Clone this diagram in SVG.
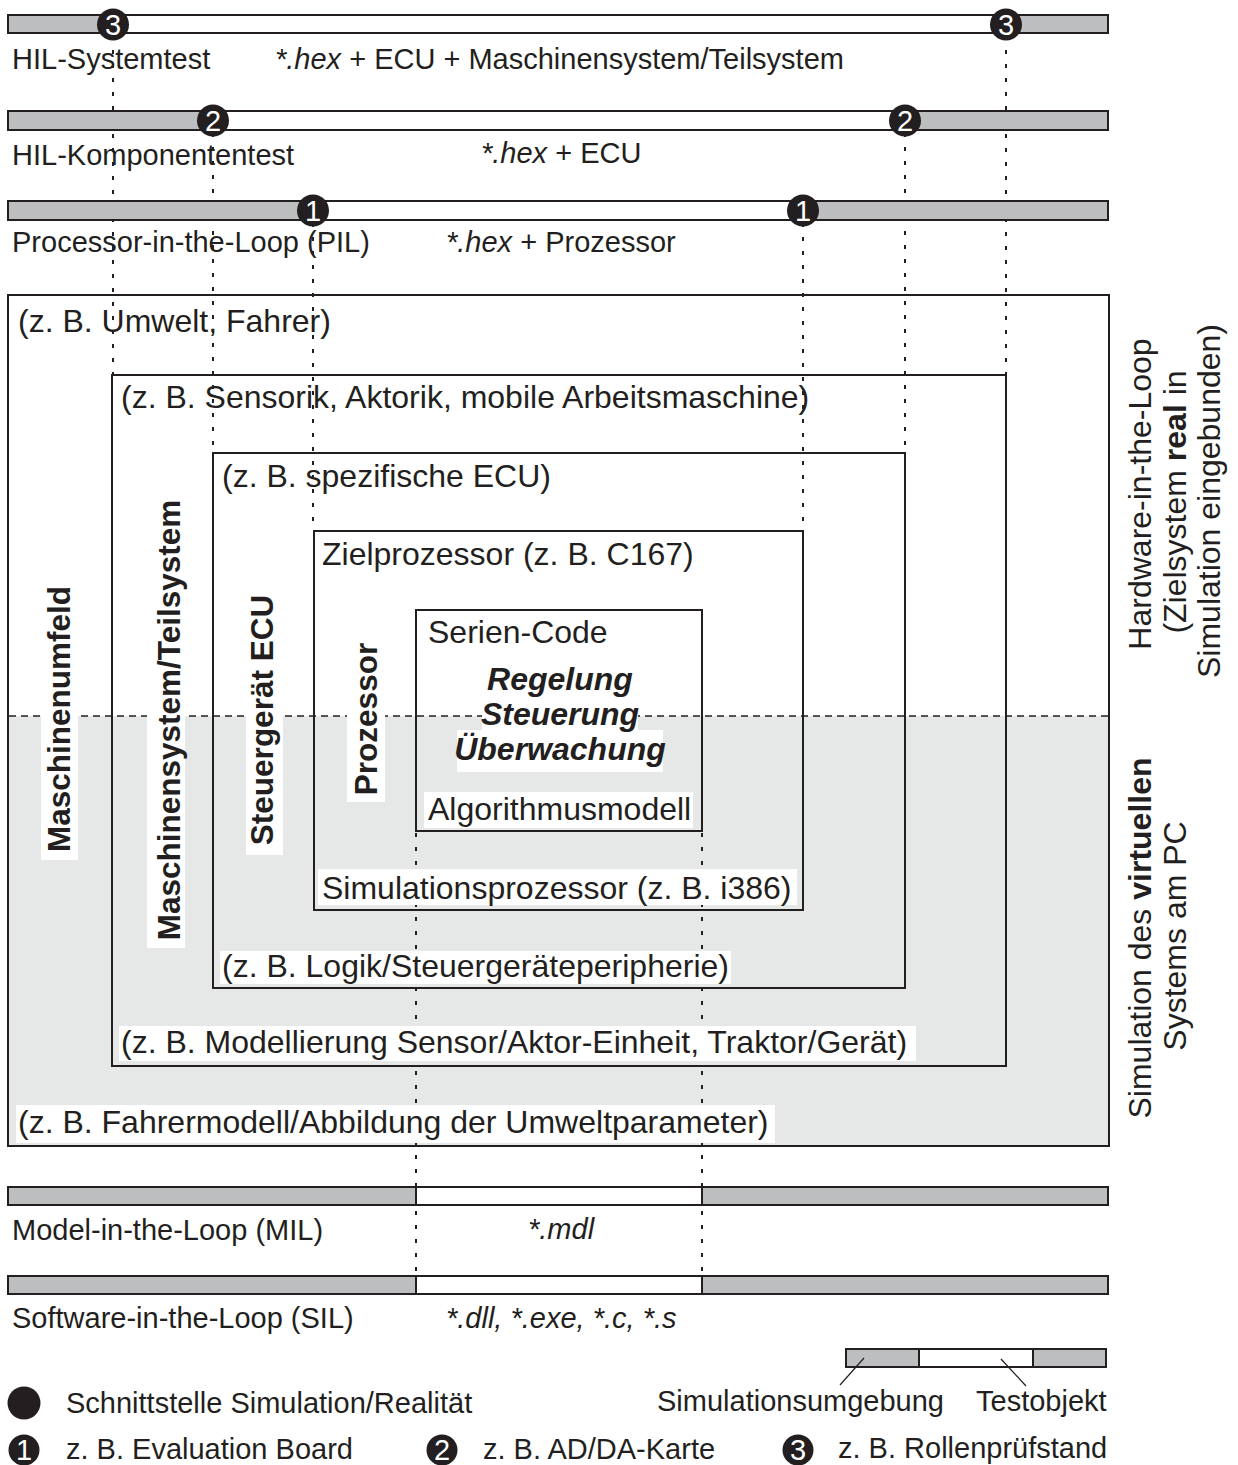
<svg xmlns="http://www.w3.org/2000/svg" width="1238" height="1465" viewBox="0 0 1238 1465">
  <style>
    text { font-family: "Liberation Sans", Arial, Helvetica, sans-serif; fill: #231f20; }
    .lbl { font-size: 32px; }
    .bar-lbl { font-size: 29px; }
    .bold-v { font-size: 31.5px; font-weight: bold; }
    .core { font-size: 32px; font-weight: bold; font-style: italic; }
    .num { font-size: 29px; fill: #ffffff; text-anchor: middle; }
    .it { font-style: italic; }
    .b { font-weight: bold; }
    .sim { fill: #bdbec0; stroke: #231f20; stroke-width: 2; }
    .obj { fill: #ffffff; stroke: #231f20; stroke-width: 2; }
    .box { fill: none; stroke: #231f20; stroke-width: 2; }
    .dot { stroke: #231f20; stroke-width: 2; stroke-dasharray: 4 10; fill: none; }
    .dash { stroke: #231f20; stroke-width: 1.6; stroke-dasharray: 7 5; fill: none; }
    .bg { fill: #ffffff; }
    .thin { stroke: #231f20; stroke-width: 1.2; fill: none; }
    .mark { fill: #231f20; }
  </style>

  <rect width="1238" height="1465" fill="#ffffff"/>

  <!-- nested system boxes: white (real) upper half, grey (virtual) lower half -->
  <g id="virtual-area">
    <rect x="8" y="716" width="1101" height="430" fill="#e6e7e7"/>
  </g>

  <!-- interface markers linking the test levels to the box boundaries -->
  <g id="connectors">
    <line class="dot" x1="113" y1="36" x2="113" y2="375"/>
    <line class="dot" x1="1006" y1="36" x2="1006" y2="375"/>
    <line class="dot" x1="213" y1="133" x2="213" y2="453"/>
    <line class="dot" x1="905" y1="133" x2="905" y2="453"/>
    <line class="dot" x1="313" y1="223" x2="313" y2="531"/>
    <line class="dot" x1="803" y1="223" x2="803" y2="531"/>
    <line class="dot" x1="416" y1="833" x2="416" y2="1276"/>
    <line class="dot" x1="702" y1="833" x2="702" y2="1276"/>
  </g>

  <g id="box-umfeld">
    <rect class="box" x="8" y="295" width="1101" height="851"/>
  </g>
  <g id="box-maschinensystem">
    <rect class="box" x="112" y="375" width="894" height="691"/>
  </g>
  <g id="box-ecu">
    <rect class="box" x="213" y="453" width="692" height="535"/>
  </g>
  <g id="box-prozessor">
    <rect class="box" x="314" y="531" width="489" height="379"/>
  </g>
  <g id="box-code">
    <rect class="box" x="416" y="610" width="286" height="221"/>
  </g>

  <!-- border between real hardware and simulated system -->
  <line id="real-virtual-border" class="dash" x1="9" y1="716" x2="1108" y2="716"/>

  <!-- label backgrounds -->
  <g id="label-backgrounds">
    <rect class="bg" x="41" y="578" width="37" height="282"/>
    <rect class="bg" x="147" y="492" width="38" height="456"/>
    <rect class="bg" x="246" y="590" width="37" height="265"/>
    <rect class="bg" x="347" y="638" width="38" height="164"/>
    <rect class="bg" x="482" y="700" width="156" height="30"/>
    <rect class="bg" x="457" y="730" width="206" height="42"/>
    <rect class="bg" x="424" y="792" width="269" height="36"/>
    <rect class="bg" x="318" y="869" width="479" height="36"/>
    <rect class="bg" x="220" y="951" width="511" height="33"/>
    <rect class="bg" x="119" y="1026" width="797" height="35"/>
    <rect class="bg" x="16" y="1105" width="759" height="38"/>
  </g>

  <!-- box labels -->
  <g id="box-labels">
    <text class="lbl" x="18" y="332">(z. B. Umwelt, Fahrer)</text>
    <text class="lbl" x="121" y="408">(z. B. Sensorik, Aktorik, mobile Arbeitsmaschine)</text>
    <text class="lbl" x="222" y="487">(z. B. spezifische ECU)</text>
    <text class="lbl" x="322" y="565">Zielprozessor (z. B. C167)</text>
    <text class="lbl" x="428" y="643">Serien-Code</text>
    <text class="core" x="560" y="690" text-anchor="middle">Regelung</text>
    <text class="core" x="560" y="725" text-anchor="middle">Steuerung</text>
    <text class="core" x="560" y="760" text-anchor="middle">Überwachung</text>
    <text class="lbl" x="428" y="820">Algorithmusmodell</text>
    <text class="lbl" x="322" y="899">Simulationsprozessor (z. B. i386)</text>
    <text class="lbl" x="222" y="977">(z. B. Logik/Steuergeräteperipherie)</text>
    <text class="lbl" x="121" y="1053">(z. B. Modellierung Sensor/Aktor-Einheit, Traktor/Gerät)</text>
    <text class="lbl" x="18" y="1133">(z. B. Fahrermodell/Abbildung der Umweltparameter)</text>

    <text class="bold-v" transform="translate(70 719) rotate(-90)" text-anchor="middle">Maschinenumfeld</text>
    <text class="bold-v" transform="translate(180 720) rotate(-90)" text-anchor="middle">Maschinensystem/Teilsystem</text>
    <text class="bold-v" transform="translate(273 720) rotate(-90)" text-anchor="middle">Steuergerät ECU</text>
    <text class="bold-v" transform="translate(377 719) rotate(-90)" text-anchor="middle">Prozessor</text>
  </g>

  <!-- side captions -->
  <g id="side-captions">
    <text class="lbl" transform="translate(1151 494) rotate(-90)" text-anchor="middle">Hardware-in-the-Loop</text>
    <text class="lbl" transform="translate(1186 502) rotate(-90)" text-anchor="middle">(Zielsystem <tspan class="b">real</tspan> in</text>
    <text class="lbl" transform="translate(1220 501) rotate(-90)" text-anchor="middle">Simulation eingebunden)</text>
    <text class="lbl" transform="translate(1151 938) rotate(-90)" text-anchor="middle">Simulation des <tspan class="b">virtuellen</tspan></text>
    <text class="lbl" transform="translate(1186 936) rotate(-90)" text-anchor="middle">Systems am PC</text>
  </g>

  <!-- test levels (top: hardware in the loop) -->
  <g id="level-hil-system">
    <rect class="sim" x="8" y="15" width="1100" height="18"/>
    <rect class="obj" x="113" y="15" width="893" height="18"/>
    <circle class="mark" cx="113" cy="24.5" r="16"/>
    <text class="num" x="113" y="35">3</text>
    <circle class="mark" cx="1006" cy="24.5" r="16"/>
    <text class="num" x="1006" y="35">3</text>
    <text class="bar-lbl" x="12" y="69">HIL-Systemtest</text>
    <text class="bar-lbl" x="275" y="69"><tspan class="it">*.hex</tspan> + ECU + Maschinensystem/Teilsystem</text>
  </g>

  <g id="level-hil-komponente">
    <rect class="sim" x="8" y="111" width="1100" height="19"/>
    <rect class="obj" x="213" y="111" width="692" height="19"/>
    <circle class="mark" cx="213" cy="120.5" r="16"/>
    <text class="num" x="213" y="131">2</text>
    <circle class="mark" cx="905" cy="120.5" r="16"/>
    <text class="num" x="905" y="131">2</text>
    <text class="bar-lbl" x="12" y="165">HIL-Komponententest</text>
    <text class="bar-lbl" x="481" y="163"><tspan class="it">*.hex</tspan> + ECU</text>
  </g>

  <g id="level-pil">
    <rect class="sim" x="8" y="201" width="1100" height="19"/>
    <rect class="obj" x="313" y="201" width="490" height="19"/>
    <circle class="mark" cx="313" cy="210.5" r="16"/>
    <text class="num" x="313" y="221">1</text>
    <circle class="mark" cx="803" cy="210.5" r="16"/>
    <text class="num" x="803" y="221">1</text>
    <text class="bar-lbl" x="12" y="252">Processor-in-the-Loop (PIL)</text>
    <text class="bar-lbl" x="446" y="252"><tspan class="it">*.hex</tspan> + Prozessor</text>
  </g>

  <!-- test levels (bottom: pure simulation) -->
  <g id="level-mil">
    <rect class="sim" x="8" y="1187" width="408" height="18"/>
    <rect class="obj" x="416" y="1187" width="286" height="18"/>
    <rect class="sim" x="702" y="1187" width="406" height="18"/>
    <text class="bar-lbl" x="12" y="1240">Model-in-the-Loop (MIL)</text>
    <text class="bar-lbl it" x="528" y="1239">*.mdl</text>
  </g>

  <g id="level-sil">
    <rect class="sim" x="8" y="1276" width="408" height="18"/>
    <rect class="obj" x="416" y="1276" width="286" height="18"/>
    <rect class="sim" x="702" y="1276" width="406" height="18"/>
    <text class="bar-lbl" x="12" y="1328">Software-in-the-Loop (SIL)</text>
    <text class="bar-lbl it" x="446" y="1328">*.dll, *.exe, *.c, *.s</text>
  </g>

  <!-- legend -->
  <g id="legend-bar">
    <rect class="sim" x="846" y="1349" width="73" height="18"/>
    <rect class="obj" x="919" y="1349" width="114" height="18"/>
    <rect class="sim" x="1033" y="1349" width="73" height="18"/>
    <line class="thin" x1="864" y1="1358" x2="840" y2="1385"/>
    <line class="thin" x1="1001" y1="1359" x2="1026" y2="1386"/>
    <text class="bar-lbl" x="657" y="1411">Simulationsumgebung</text>
    <text class="bar-lbl" x="976" y="1411">Testobjekt</text>
  </g>

  <g id="legend-interface">
    <circle class="mark" cx="24" cy="1403" r="16.5"/>
    <text class="bar-lbl" x="66" y="1413">Schnittstelle Simulation/Realität</text>
  </g>

  <g id="legend-1">
    <circle class="mark" cx="24" cy="1450" r="15.5"/>
    <text class="num" x="24" y="1460">1</text>
    <text class="bar-lbl" x="66" y="1459">z. B. Evaluation Board</text>
  </g>
  <g id="legend-2">
    <circle class="mark" cx="442" cy="1450" r="15.5"/>
    <text class="num" x="442" y="1460">2</text>
    <text class="bar-lbl" x="483" y="1459">z. B. AD/DA-Karte</text>
  </g>
  <g id="legend-3">
    <circle class="mark" cx="798" cy="1450" r="15.5"/>
    <text class="num" x="798" y="1460">3</text>
    <text class="bar-lbl" x="838" y="1458">z. B. Rollenprüfstand</text>
  </g>
</svg>
